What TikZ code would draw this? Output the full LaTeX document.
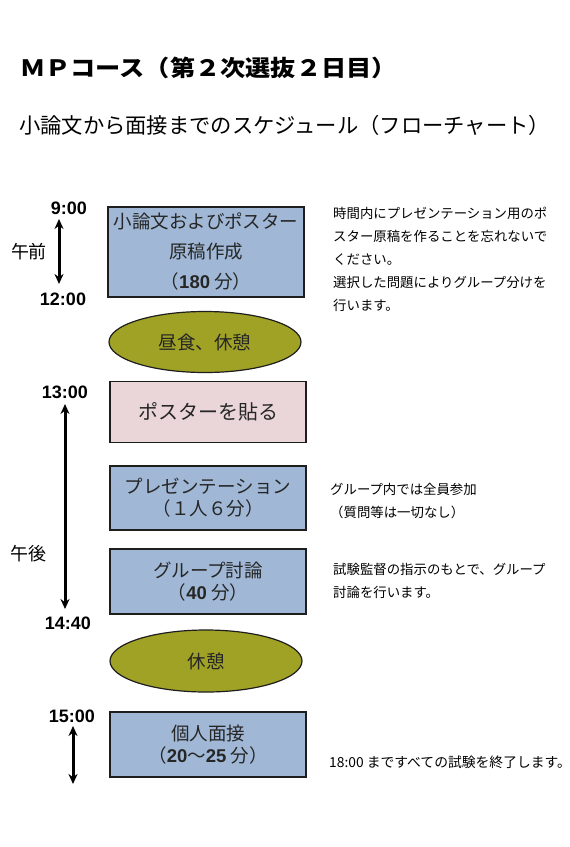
\documentclass[tikz,border=0pt]{standalone}
\usepackage{fontspec}
\setmainfont{Noto Sans CJK JP}
\newfontfamily\arialfont{Liberation Sans}
\usetikzlibrary{arrows.meta,shapes.geometric}
\definecolor{boxblue}{RGB}{160,184,214}
\definecolor{boxpink}{RGB}{234,214,216}
\definecolor{olive}{RGB}{160,162,38}
\definecolor{edge}{RGB}{30,30,30}
\tikzset{
  stepbox/.style={draw=edge, line width=1.4pt, fill=boxblue, minimum width=196pt, inner sep=0pt, align=center, text=black!85},
  pinkbox/.style={stepbox, fill=boxpink},
  breakell/.style={draw=edge, line width=1.2pt, fill=olive, ellipse, inner sep=0pt, text=black!85},
  timelbl/.style={font=\arialfont\bfseries\fontsize{18}{20}\selectfont, inner sep=0pt},
  notetxt/.style={anchor=west, align=left, inner sep=0pt, font=\fontsize{13.4}{23}\selectfont},
  periodlbl/.style={inner sep=0pt, font=\fontsize{18}{20}\selectfont},
  timearrow/.style={line width=3pt, {Stealth[length=10pt,width=9pt]}-{Stealth[length=10pt,width=9pt]}},
}
\newcommand{\bnum}[1]{{\arialfont\bfseries #1}}
\begin{document}
\begin{tikzpicture}[x=1pt,y=-1pt]
\useasboundingbox (0,0) rectangle (570,847);
\fill[white] (0,0) rectangle (570,847);

% titles
\node[anchor=west, inner sep=0pt, font=\bfseries\fontsize{22.5}{24}\selectfont] (title) at (20,68) {\scalebox{1.12}[1]{ＭＰコース（第２次選抜２日目）}};
\node[anchor=west, inner sep=0pt, font=\fontsize{21.3}{22}\selectfont] (subtitle) at (19,125) {小論文から面接までのスケジュール（フローチャート）};

% morning
\node[timelbl] (t900) at (69,208) {9:00};
\node[timelbl] (t1200) at (63,299) {12:00};
\node[periodlbl] (am) at (29,252) {午前};
\coordinate (a1s) at (59,219);
\coordinate (a1e) at (59,284);
\draw[timearrow] (a1s) -- (a1e);

\node[stepbox, minimum height=90pt, font=\fontsize{18.5}{30}\selectfont] (b1) at (206,252)
  {小論文およびポスター\\原稿作成\\（\bnum{180} 分）};

\node[breakell, minimum width=192pt, minimum height=61pt, font=\fontsize{18.5}{20}\selectfont] (lunch) at (205,342) {昼食、休憩};

% afternoon
\node[pinkbox, minimum height=61pt, font=\fontsize{20}{22}\selectfont] (b2) at (208,412) {ポスターを貼る};

\node[timelbl] (t1300) at (65,392) {13:00};
\node[periodlbl] (pm) at (28,554) {午後};
\coordinate (a2s) at (65,404);
\coordinate (a2e) at (65,609);
\draw[timearrow] (a2s) -- (a2e);
\node[timelbl] (t1440) at (68,623) {14:40};

\node[stepbox, minimum height=64pt, font=\fontsize{18.5}{22}\selectfont] (b3) at (208,498)
  {プレゼンテーション\\（１人６分）};
\node[stepbox, minimum height=65pt, font=\fontsize{18.5}{22}\selectfont] (b4) at (208,581.5)
  {グループ討論\\（\bnum{40} 分）};

\node[breakell, minimum width=192pt, minimum height=62pt, font=\fontsize{18.5}{20}\selectfont] (rest) at (206,661) {休憩};

\node[timelbl] (t1500) at (72,716) {15:00};
\coordinate (a3s) at (73,726);
\coordinate (a3e) at (73,784);
\draw[timearrow] (a3s) -- (a3e);

\node[stepbox, minimum height=65pt, font=\fontsize{18.5}{22}\selectfont] (b5) at (208,744.5)
  {個人面接\\（\bnum{20}〜\bnum{25} 分）};

% notes
\node[notetxt] (n1) at (333,259)
  {時間内にプレゼンテーション用のポ\\スター原稿を作ることを忘れないで\\ください。\\選択した問題によりグループ分けを\\行います。};
\node[notetxt] (n2) at (330,501) {グループ内では全員参加\\（質問等は一切なし）};
\node[notetxt] (n3) at (333,581) {試験監督の指示のもとで、グループ\\討論を行います。};
\node[notetxt, font=\fontsize{13.8}{14}\selectfont] (n4) at (329,762) {18:00 まですべての試験を終了します。};
\end{tikzpicture}
\end{document}
